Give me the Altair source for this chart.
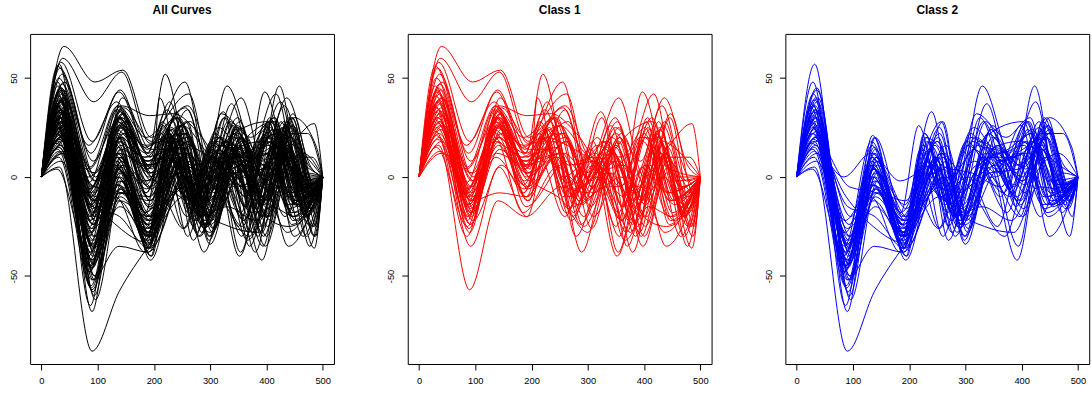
import altair as alt
import pandas as pd

# Base x positions of the control points (extrema) of the curves
X1 = [0, 35, 90, 140, 190, 240, 285, 335, 380, 422, 465, 500]
X2 = [0, 32, 90, 138, 190, 242, 280, 330, 382, 425, 465, 500]

# Class 1 curves: values at the interior control points (start/end are 0)
class1 = [
    [66, 48, 54, 20, 30, 8, 18, -8, 22, -5],
    [60, 38, 53, 17, 26, 2, 12, -14, 16, -8],
    [58, 18, 44, 12, 52, 6, 8, -22, 6, -20],
    [55, 12, 43, 14, 48, -2, 16, -12, 28, -16],
    [52, 8, 36, 31, 32, 22, 4, 12, 42, -6],
    [50, 5, 36, 20, 42, -5, 20, -25, 10, -30],
    [48, 0, 35, 18, 38, -10, 33, -8, 24, -12],
    [46, -3, 34, 15, 36, 10, 40, 0, 15, 27],
    [45, -5, 33, 12, 30, -12, 14, -30, 25, -20],
    [44, -8, 32, 10, 28, -5, 10, -18, 43, 5],
    [43, -10, 30, 8, 26, -8, 12, -28, 20, -35],
    [42, -12, 30, 6, 25, -15, 18, 5, 30, -10],
    [41, -14, 28, 4, 22, -2, 8, -35, 2, -25],
    [40, -16, 28, 2, 20, 15, 5, -10, 25, -18],
    [39, -18, 27, 0, 18, -20, 6, -20, 18, -5],
    [38, -20, 26, -2, 30, -6, 15, -38, 10, -30],
    [37, -5, 25, 5, 24, -10, 20, -15, 28, -22],
    [36, -8, 24, 10, 15, -25, 2, -25, 12, -15],
    [35, -10, 22, -5, 22, 0, 10, -40, -5, -28],
    [34, -15, 20, 8, 12, -12, 25, 8, 40, 5],
    [33, -22, 36, -8, 28, -30, 4, -22, 15, -12],
    [32, -24, 35, -12, 34, -15, 18, -30, 5, -36],
    [31, -12, 32, 0, 20, -3, 12, -5, 22, -8],
    [30, -26, 30, -10, 10, -38, 8, -18, 28, -20],
    [29, -6, 18, 10, 35, 5, 22, -10, 10, 10],
    [28, -18, 14, 2, 16, -18, 30, -35, 0, -14],
    [27, -28, 26, -15, 8, -8, 0, -12, 30, -25],
    [26, -2, 22, 4, 40, -10, 14, -25, 20, 18],
    [25, -14, 10, -6, 26, 12, -5, 2, 36, -2],
    [24, -20, 40, 14, 14, -22, 10, -32, -15, -20],
    [23, -30, 20, -18, 5, -5, 12, -8, 18, -30],
    [22, -16, 16, -5, 18, -26, 20, -14, 8, -8],
    [20, -35, 5, -20, 30, -14, -5, -28, 15, 0],
    [19, -10, 12, 6, 12, 0, 28, -20, -25, -15],
    [18, -22, 6, -12, 20, -16, 16, 10, 25, -24],
    [16, -57, -12, -20, -5, -8, 8, -20, 26, -10],
    [15, -25, 30, -8, 10, -20, 18, -38, 5, -35],
    [13, -12, -8, -10, 22, -24, 2, -12, 20, -5],
    [12, 2, 26, 0, -12, -28, 15, -30, 12, -18],
    [56, 16, 38, 5, 24, -6, 6, 22, 28, -2],
    [47, 2, 30, 6, 20, -10, 25, -20, 15, -25],
    [44, -6, 25, 12, 34, -4, 10, -15, 30, -12],
    [40, -2, 20, -6, 12, -20, 20, -5, 10, -20],
    [38, -14, 34, 4, 26, -18, 6, -30, 18, -8],
    [35, 4, 28, 16, 22, 0, 30, -12, 0, -25],
    [33, -18, 24, -2, 18, -12, 16, -24, 22, -15],
    [30, -8, 30, 8, 28, -6, 22, -6, 32, -10],
    [28, -24, 18, -10, 24, -20, 12, -28, 6, -22],
    [26, -12, 32, 2, 10, -14, 26, -16, 24, -18],
    [21, -20, 22, -4, 14, -10, 0, -22, 20, -12],
]
# per-curve horizontal offsets of the early (x<200) and late (x>200) extrema
shift1_early = [5, 3, 0, -2, 2, -4, 6, -6, 0, 4, -3, 2, -5, 7, 1, -2, 3, -7, 5, 0,
                -4, 2, 6, -1, -6, 3, 0, 8, -3, 4, -5, 1, 2, -2, 6, 0, -4, 3, 5, -6,
                2, -3, 4, 0, -5, 6, -2, 1, 3, -4]
shift1_late = [0, 10, -20, 15, -5, 22, -12, 20, 5, -25, 12, -8, 18, -15, 25, 0, -18, 8, -28, 14,
               -6, 20, -22, 4, 16, -10, 24, -30, 10, -14, 6, 22, -4, 18, -20, 12, -26, 2, 15, -8,
               20, -16, 8, -24, 14, 0, 25, -12, 6, -20]

# Class 2 curves
class2 = [
    [57, -68, 20, -38, 10, -28, 15, -5, 25, -10],
    [48, -65, 21, -30, 33, -15, 5, -10, 46, -5],
    [45, -60, 10, -42, 28, -32, 20, 0, 20, -12],
    [42, -55, 5, -35, 15, -20, 46, 10, 38, -8],
    [40, -52, 0, -30, 20, -25, 32, 20, 30, -15],
    [38, -50, -5, -25, 25, -18, 10, -35, 28, 5],
    [37, -48, 8, -32, 12, -30, 22, -10, 18, -18],
    [36, -46, 12, -28, 5, -22, 15, 5, 26, -6],
    [35, -45, -10, -38, 18, -12, 37, -15, 22, 22],
    [34, -44, 3, -20, 10, -26, 8, -42, 14, -12],
    [33, -42, 15, -34, 22, -5, 25, 8, 28, -14],
    [32, -40, -8, -26, 0, -34, 12, -20, 10, -30],
    [31, -38, 6, -22, 14, -16, 18, 12, 24, -4],
    [30, -36, -2, -36, 8, -28, 20, -8, 30, 15],
    [29, -35, 18, -18, 26, -10, 0, -25, 12, -10],
    [28, -34, -15, -30, 6, -20, 28, 2, 20, -8],
    [27, -32, 4, -24, -5, -24, 14, 18, 8, -16],
    [26, -30, -6, -40, 16, 5, 2, -5, 28, -2],
    [25, -28, 10, -28, 2, -30, 10, 10, 16, -14],
    [24, -26, -12, -32, 12, -18, 24, -12, 26, -6],
    [23, -24, 2, -14, 20, 10, -10, -30, 4, -12],
    [22, -22, -4, -26, 0, -26, 16, 4, 22, -20],
    [21, -20, 6, -20, 8, -14, 6, -18, 18, 8],
    [20, -15, -20, -36, 4, -22, 22, 6, 14, -4],
    [19, -10, -25, -33, 14, -6, 12, 25, 28, -10],
    [18, -5, -8, -22, 10, -30, 26, -2, 10, -16],
    [17, 0, 12, -2, 6, -20, -15, -22, 2, 12],
    [16, -40, 14, -36, 22, -12, 8, -8, 24, -8],
    [15, -52, -35, -38, 4, -24, 2, 14, 20, -12],
    [14, -45, 0, -24, -10, -26, 18, 0, 12, -14],
    [12, -38, 8, -16, 18, -8, 4, 10, -20, 2],
    [10, -56, -4, -34, 6, -28, 30, -6, 20, -10],
    [8, -30, -8, -12, 16, -16, -25, -28, -5, -6],
    [5, -88, -58, -35, -10, -22, 10, -12, 24, -8],
    [4, -42, 16, -30, 2, -14, 14, 2, 18, -30],
    [30, -58, 20, -22, 12, -18, 6, -16, 26, -12],
    [40, -62, -2, -40, 18, -32, 16, 8, 22, -6],
    [26, -48, 10, -18, 28, -20, 0, -20, 30, -4],
    [34, -35, -6, -30, -2, -10, 20, 12, 16, -14],
    [22, -45, 4, -28, 10, -25, 12, -4, 28, -18],
    [44, -50, 8, -30, 16, -20, 12, -4, 24, -10],
    [39, -42, -4, -28, 8, -18, 20, 6, 28, -14],
    [36, -38, 12, -20, 20, -24, 8, -10, 18, -6],
    [33, -52, 2, -34, 4, -26, 16, 2, 26, -16],
    [30, -44, -10, -26, 12, -14, 24, -14, 14, -8],
    [28, -40, 6, -32, 18, -22, 6, 14, 22, -12],
    [25, -36, -2, -22, 0, -30, 14, -2, 30, -10],
    [20, -32, 10, -30, 14, -12, 18, 8, 12, -20],
    [18, -46, 0, -36, 8, -20, 28, -8, 20, -4],
    [13, -34, 4, -24, 22, -16, 2, 4, 16, -14],
]
shift2_early = [0, -3, 4, -2, 2, 5, -4, 1, -6, 3, 0, 6, -2, 4, -5, 2, -1, 5, -3, 0,
                3, -4, 6, 1, -2, 4, -6, 2, 0, -3, 5, -1, 3, 0, -4, 2, 6, -5, 1, -2,
                4, 0, -3, 5, 2, -6, 1, 3, -1, 0]
shift2_late = [5, -2, 18, 0, -10, 12, -20, 22, 8, 10, -15, 20, -6, 24, -25, 6, 14, -18, 2, 16,
               -12, 25, -8, 10, -22, 18, 0, -14, 20, -28, 8, -4, 4, 12, -16, 22, -10, 15, -20, 6,
               24, -12, 10, -26, 16, -6, 20, -18, 2, 12]

X_TICKS = [0, 100, 200, 300, 400, 500]
Y_TICKS = [-50, 0, 50]
TITLES = ["All Curves", "Class 1", "Class 2"]
COLORS = ["black", "red", "blue"]


def to_frame(curves, xs, early, late, tag):
    rows = []
    for i, c in enumerate(curves):
        ys = [0] + list(c) + [0]
        for k, (x, y) in enumerate(zip(xs, ys)):
            if 1 <= k <= 4:
                x = x + early[i]
            elif 5 <= k <= 10:
                x = x + late[i]
            rows.append({"curve": f"{tag}-{i}", "x": x, "y": y})
    return pd.DataFrame(rows)


df1 = to_frame(class1, X1, shift1_early, shift1_late, "c1")
df2 = to_frame(class2, X2, shift2_early, shift2_late, "c2")
df_all = pd.concat([df1, df2], ignore_index=True)

FONT = "Liberation Sans"


def panel(df, title, color):
    return (
        alt.Chart(
            df,
            title=alt.Title(
                title, fontSize=12, fontWeight="bold", font=FONT,
                offset=17, anchor="middle", color="black",
            ),
        )
        .mark_line(interpolate="monotone", strokeWidth=1, color=color, clip=True)
        .encode(
            x=alt.X(
                "x:Q",
                scale=alt.Scale(domain=[-20, 520], nice=False, zero=False),
                axis=alt.Axis(
                    values=X_TICKS, title=None, grid=False, domain=False,
                    tickSize=6, tickColor="black", labelPadding=7,
                    labelFontSize=9.4, labelFont=FONT, labelColor="black",
                    labelExpr="'' + datum.value",
                ),
            ),
            y=alt.Y(
                "y:Q",
                scale=alt.Scale(domain=[-94.5, 72.3], nice=False, zero=False),
                axis=alt.Axis(
                    values=Y_TICKS, title=None, grid=False, domain=False,
                    tickSize=6, tickColor="black", labelPadding=6,
                    labelFontSize=9.4, labelFont=FONT, labelColor="black",
                    labelAngle=270, labelAlign="center", labelBaseline="bottom",
                    minExtent=26, maxExtent=26,
                    labelExpr="'' + datum.value",
                ),
            ),
            detail="curve:N",
        )
        .properties(width=305.6, height=332)
    )


chart = (
    alt.hconcat(
        panel(df_all, TITLES[0], COLORS[0]),
        panel(df1, TITLES[1], COLORS[1]),
        panel(df2, TITLES[2], COLORS[2]),
        spacing=45.8,
    )
    .properties(padding={"left": 3.3, "top": 2, "right": 2, "bottom": 0}, background="white")
    .configure_view(stroke="black", strokeWidth=1)
)

chart.save("out.html", embed_options={"renderer": "svg", "actions": False})
